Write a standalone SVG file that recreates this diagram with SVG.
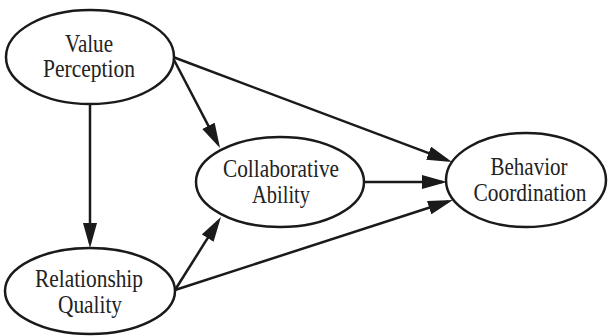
<svg xmlns="http://www.w3.org/2000/svg" width="609" height="336" viewBox="0 0 609 336">
<style>
.node ellipse{fill:#fff;stroke:#1a1a1a;stroke-width:2.5}
.node text{fill:#222;text-anchor:middle}
#connectors line{stroke:#1a1a1a;stroke-width:2.5;fill:none;marker-end:url(#arr)}
</style>
<defs>
<marker id="arr" markerUnits="userSpaceOnUse" markerWidth="26" markerHeight="14" refX="20" refY="7" orient="auto">
<path d="M0,0 L25,7 L0,14 z" fill="#1a1a1a"/>
</marker>
</defs>
<rect width="609" height="336" fill="#fff"/>
<g id="connectors">
<line x1="90" y1="104" x2="90" y2="243"/>
<line x1="173" y1="58" x2="217.7" y2="143.6"/>
<line x1="173" y1="57" x2="447.3" y2="160.2"/>
<line x1="364" y1="182" x2="442" y2="182"/>
<line x1="175" y1="290" x2="218.3" y2="221.2"/>
<line x1="175" y1="290" x2="448.2" y2="201.5"/>
</g>
<g id="value-perception" class="node" font-family="Liberation Serif, serif" font-size="25">
<ellipse cx="90" cy="57" rx="84" ry="47"/>
<text x="89" y="52" textLength="48" lengthAdjust="spacingAndGlyphs">Value</text>
<text x="89" y="77" textLength="92" lengthAdjust="spacingAndGlyphs">Perception</text>
</g>
<g id="relationship-quality" class="node" font-family="Liberation Serif, serif" font-size="25">
<ellipse cx="90" cy="291" rx="85" ry="43"/>
<text x="89" y="287" textLength="108" lengthAdjust="spacingAndGlyphs">Relationship</text>
<text x="90" y="313" textLength="64" lengthAdjust="spacingAndGlyphs">Quality</text>
</g>
<g id="collaborative-ability" class="node" font-family="Liberation Serif, serif" font-size="25">
<ellipse cx="280" cy="182" rx="84" ry="45"/>
<text x="281" y="177" textLength="116" lengthAdjust="spacingAndGlyphs">Collaborative</text>
<text x="281" y="203" textLength="58" lengthAdjust="spacingAndGlyphs">Ability</text>
</g>
<g id="behavior-coordination" class="node" font-family="Liberation Serif, serif" font-size="25">
<ellipse cx="526" cy="180" rx="80" ry="47"/>
<text x="529" y="175" textLength="77" lengthAdjust="spacingAndGlyphs">Behavior</text>
<text x="530" y="201" textLength="113" lengthAdjust="spacingAndGlyphs">Coordination</text>
</g>
</svg>
